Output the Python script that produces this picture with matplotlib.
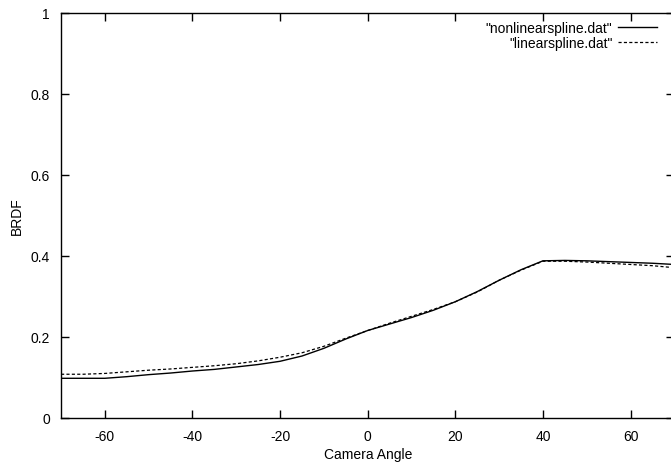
import matplotlib.pyplot as plt

plt.rcParams['font.family'] = ['Liberation Sans', 'DejaVu Sans']
plt.rcParams['axes.unicode_minus'] = False

angles = [-70, -65, -60, -55, -50, -45, -40, -35, -30, -25, -20, -15, -10, -5,
          0, 5, 10, 15, 20, 25, 30, 35, 40, 45, 50, 55, 60, 65, 70]
nonlinear = [0.098, 0.098, 0.098, 0.102, 0.107, 0.111, 0.116, 0.120, 0.126, 0.132,
             0.140, 0.153, 0.172, 0.195, 0.216, 0.232, 0.248, 0.266, 0.287, 0.312,
             0.340, 0.366, 0.388, 0.389, 0.388, 0.386, 0.384, 0.382, 0.379]
linear = [0.108, 0.108, 0.110, 0.114, 0.118, 0.121, 0.125, 0.129, 0.134, 0.141,
          0.150, 0.161, 0.177, 0.197, 0.216, 0.234, 0.251, 0.268, 0.287, 0.311,
          0.340, 0.365, 0.387, 0.387, 0.385, 0.382, 0.379, 0.376, 0.371]

xticks = [-60, -40, -20, 0, 20, 40, 60]
yticks = [0, 0.2, 0.4, 0.6, 0.8, 1]
ytick_labels = ["0", "0.2", "0.4", "0.6", "0.8", "1"]

fig = plt.figure(figsize=(6.71, 4.64), dpi=100)
ax = fig.add_axes([0.091, 0.097, 0.914, 0.873])

ax.plot(angles, nonlinear, color="black", lw=1.0, label='"nonlinearspline.dat"')
ax.plot(angles, linear, color="black", lw=0.9, ls=(0, (2.5, 1.8)), label='"linearspline.dat"')

ax.set_xlim(-70, 70)
ax.set_ylim(0, 1)
ax.set_xticks(xticks)
ax.set_yticks(yticks)
ax.set_yticklabels(ytick_labels)
ax.tick_params(direction="in", length=6, width=1, top=True, right=True,
               labelsize=10, pad=8)
for s in ax.spines.values():
    s.set_linewidth(1.0)

ax.set_xlabel("Camera Angle", fontsize=10, labelpad=3)
ax.set_ylabel("BRDF", fontsize=10, labelpad=5)

ax.legend(loc="upper right", markerfirst=False, frameon=False, fontsize=10,
          handlelength=2.8, handletextpad=0.4, borderaxespad=0.2,
          labelspacing=0.05, bbox_to_anchor=(0.985, 1.0))

fig.savefig("out.png", dpi=100)
